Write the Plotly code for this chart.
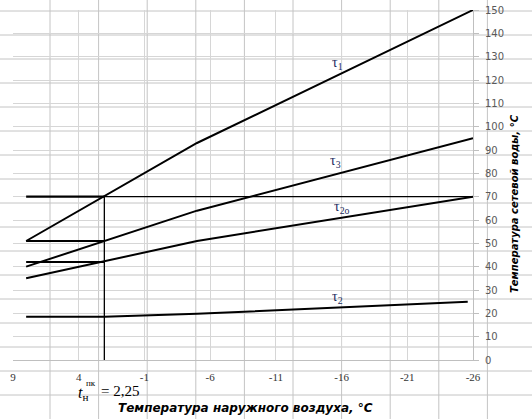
import plotly.graph_objects as go

# ---------------- data ----------------
t_out = [8, -5, -26]                 # outdoor temperature, °C
tau1 = [51, 93, 150]                  # τ1
tau3 = [40, 64, 95]                   # τ3
tau2o = [35, 51, 70]                  # τ2o
tau2_x = [8, 2.05, -5, -25.6]
tau2_y = [18.5, 18.5, 19.8, 25]       # τ2

t_break = 2.05                        # break-point outdoor temperature
guide_left = 8
level_70 = 70
level_51 = 51
level_42 = 42
t_right = -26

x_ticks = [9, 4, -1, -6, -11, -16, -21, -26]
x_ticktext = ["9", "4", "-1", "-6", "-11", "-16", "-21", "-26"]

labels = ["τ<sub>1</sub>", "τ<sub>3</sub>", "τ<sub>2о</sub>", "τ<sub>2</sub>"]
label_x = [-15.7, -15.5, -16.0, -15.7]
label_y = [127, 85, 65.5, 27]

x_title = "Температура наружного воздуха, °С"
y_title = "Температура сетевой воды, °С"
break_symbol = "<i>t</i><sub>н</sub>"
break_sup = "пк"
break_value = "= 2,25"

# ---------------- figure ----------------
W, H = 532, 419
ML, MR, MT, MB = 13, 59, 10, 59
PW, PH = W - ML - MR, H - MT - MB

def px_x(p):
    return (p - ML) / PW

def px_y(p):
    return (H - MB - p) / PH

fig = go.Figure()

thick = dict(color="black", width=2)
fig.add_trace(go.Scatter(x=t_out, y=tau1, mode="lines", line=thick))
fig.add_trace(go.Scatter(x=t_out, y=tau3, mode="lines", line=thick))
fig.add_trace(go.Scatter(x=t_out, y=tau2o, mode="lines", line=thick))
fig.add_trace(go.Scatter(x=tau2_x, y=tau2_y, mode="lines", line=thick))

# guide lines
fig.add_trace(go.Scatter(x=[guide_left, t_break], y=[level_70, level_70], mode="lines",
                         line=dict(color="black", width=2.2)))
fig.add_trace(go.Scatter(x=[t_break, t_right], y=[level_70, level_70], mode="lines",
                         line=dict(color="black", width=1.2)))
fig.add_trace(go.Scatter(x=[guide_left, t_break], y=[level_51, level_51], mode="lines",
                         line=dict(color="black", width=2.2)))
fig.add_trace(go.Scatter(x=[guide_left, t_break], y=[level_42, level_42], mode="lines",
                         line=dict(color="black", width=2.2)))
fig.add_trace(go.Scatter(x=[t_break, t_break], y=[0, level_70], mode="lines",
                         line=dict(color="black", width=1.3)))

# spreadsheet cell grid behind the chart
shapes = []
col_w, row_h = 48.6, 24
for i in range(10):
    xp = 50 + i * col_w
    shapes.append(dict(type="line", xref="paper", yref="paper", layer="below",
                       x0=px_x(xp), x1=px_x(xp), y0=px_y(0), y1=px_y(H),
                       line=dict(color="#c4c4c4", width=1)))
for j in range(17):
    yp = 11 + j * row_h
    shapes.append(dict(type="line", xref="paper", yref="paper", layer="below",
                       x0=px_x(0), x1=px_x(W), y0=px_y(yp), y1=px_y(yp),
                       line=dict(color="#c4c4c4", width=1)))

annotations = []
for t, x, y in zip(labels, label_x, label_y):
    annotations.append(dict(x=x, y=y, text=t, showarrow=False, xanchor="center",
                            yanchor="middle",
                            font=dict(family="Liberation Serif", size=14, color="#1c2b5e")))
annotations.append(dict(xref="paper", yref="paper", x=px_x(245), y=px_y(408),
                        text="<b><i>" + x_title + "</i></b>", showarrow=False,
                        xanchor="center", yanchor="middle",
                        font=dict(family="DejaVu Sans", size=12, color="black")))
annotations.append(dict(xref="paper", yref="paper", x=px_x(514), y=px_y(204),
                        text="<b><i>" + y_title + "</i></b>", showarrow=False,
                        textangle=-90, xanchor="center", yanchor="middle",
                        font=dict(family="DejaVu Sans", size=10, color="black")))
annotations.append(dict(xref="paper", yref="paper", x=px_x(76), y=px_y(393),
                        text=break_symbol, showarrow=False, xanchor="left",
                        yanchor="middle",
                        font=dict(family="Liberation Serif", size=16, color="black")))
annotations.append(dict(xref="paper", yref="paper", x=px_x(84), y=px_y(383),
                        text=break_sup, showarrow=False, xanchor="left",
                        yanchor="middle",
                        font=dict(family="Liberation Serif", size=9, color="black")))
annotations.append(dict(xref="paper", yref="paper", x=px_x(99), y=px_y(391),
                        text=break_value, showarrow=False, xanchor="left",
                        yanchor="middle",
                        font=dict(family="Liberation Serif", size=15, color="black")))

fig.update_layout(
    width=W, height=H,
    margin=dict(l=ML, r=MR, t=MT, b=MB, pad=0, autoexpand=False),
    paper_bgcolor="white",
    plot_bgcolor="rgba(0,0,0,0)",
    showlegend=False,
    shapes=shapes,
    annotations=annotations,
    xaxis=dict(range=[9, -26], tickvals=x_ticks, ticktext=x_ticktext,
               showgrid=True, gridcolor="#d6d6d6", gridwidth=1,
               zeroline=False, showline=True, linecolor="#bfbfbf",
               ticks="", ticklabelstandoff=7,
               tickfont=dict(family="Liberation Serif", size=11, color="#333333")),
    yaxis=dict(range=[0, 150], dtick=10, side="right",
               showgrid=True, gridcolor="#d6d6d6", gridwidth=1,
               zeroline=False, showline=True, linecolor="#bfbfbf",
               ticks="outside", ticklen=5, tickcolor="#bfbfbf",
               ticklabelstandoff=4,
               tickfont=dict(family="DejaVu Sans", size=10, color="#595959")),
)

fig.write_html(
    "out.html",
    config={"displayModeBar": False},
    post_script="document.body.style.margin='0';document.body.style.overflow='hidden';",
)
